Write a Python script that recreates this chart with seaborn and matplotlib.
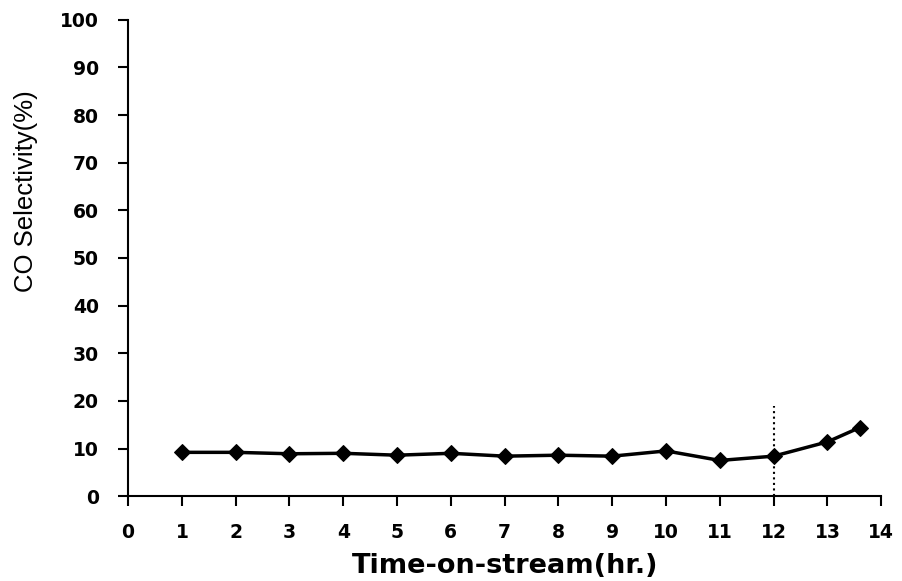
import matplotlib
matplotlib.use("Agg")
import matplotlib.pyplot as plt
import seaborn as sns
import pandas as pd

time_hr = [1, 2, 3, 4, 5, 6, 7, 8, 9, 10, 11, 12, 13, 13.6]
co_sel = [9.2, 9.2, 8.9, 9.0, 8.6, 9.0, 8.4, 8.6, 8.4, 9.5, 7.5, 8.4, 11.4, 14.4]
x_ticks = list(range(0, 15))
y_ticks = list(range(0, 101, 10))
marker_x = 12
marker_top = 19

sns.set_theme(style="ticks")
plt.rcParams['font.family'] = ['Liberation Sans', 'DejaVu Sans']

df = pd.DataFrame({"t": time_hr, "s": co_sel})
fig = plt.figure(figsize=(9.02, 5.81), dpi=100)
ax = fig.add_axes([0.142, 0.146, 0.835, 0.82])
sns.lineplot(data=df, x="t", y="s", ax=ax, color="black", linewidth=2.5,
             marker="D", markersize=8.5, markeredgecolor="black")
ax.plot([marker_x, marker_x], [0, marker_top], color="black", linestyle=":", linewidth=1.5)
ax.set_xlim(0, 14)
ax.set_ylim(0, 100)
ax.set_xticks(x_ticks)
ax.set_yticks(y_ticks)
tick_font = dict(family="DejaVu Sans", fontweight="bold", fontsize=13.5, color="black")
ax.set_xticklabels([str(v) for v in x_ticks], **tick_font)
ax.set_yticklabels([str(v) for v in y_ticks], **tick_font)
ax.tick_params(axis="both", direction="out", length=7, width=1.5, colors="black")
ax.tick_params(axis="x", pad=12)
ax.tick_params(axis="y", pad=14)
for s in ["top", "right"]:
    ax.spines[s].set_visible(False)
for s in ["left", "bottom"]:
    ax.spines[s].set_linewidth(1.5)
    ax.spines[s].set_color("black")
ax.set_xlabel("Time-on-stream(hr.)", family="DejaVu Sans", fontweight="bold",
              fontsize=19.5, color="black", labelpad=8)
ax.set_ylabel("CO Selectivity(%)", fontsize=18.5, color="black")
ax.yaxis.set_label_coords(-0.12, 0.64)
fig.savefig("out.png", dpi=100, facecolor="white")
